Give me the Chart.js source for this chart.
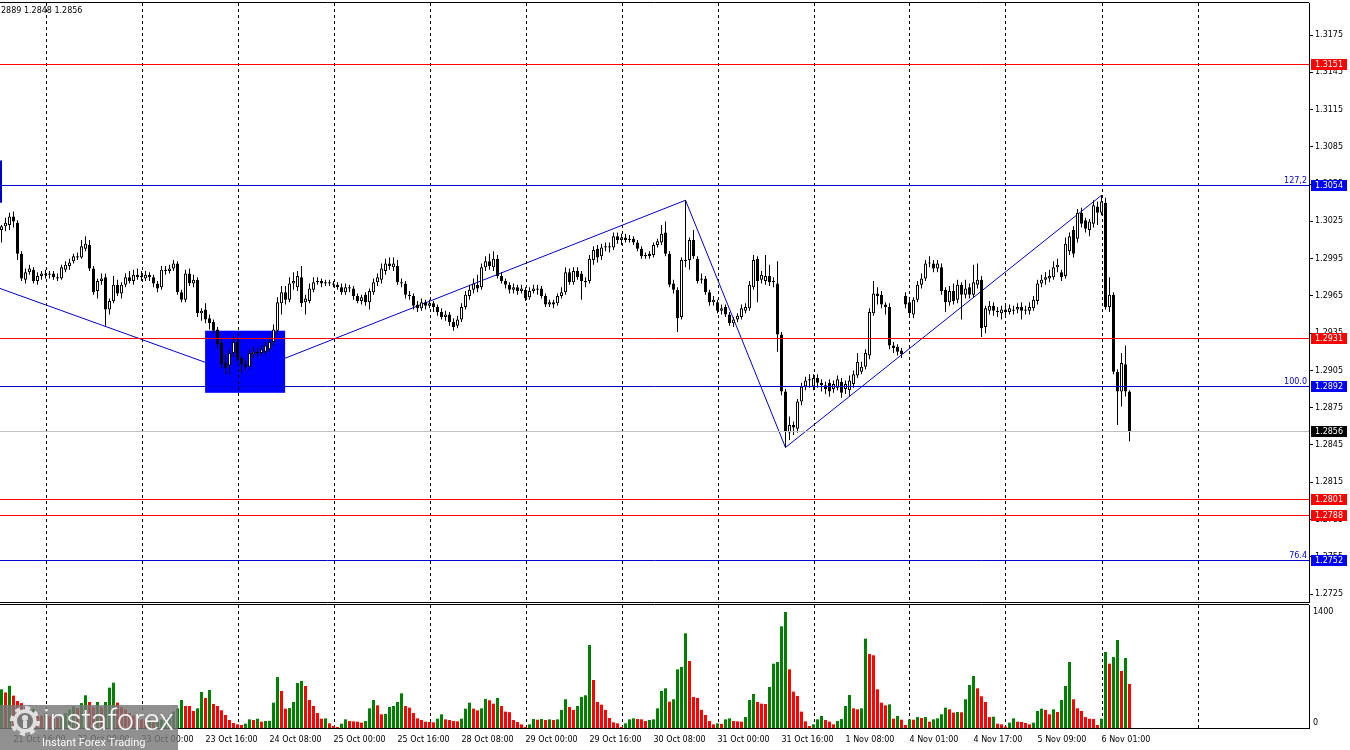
<!DOCTYPE html>
<html>
<head>
<meta charset="utf-8">
<title>GBPUSD H1</title>
<script src="https://cdn.jsdelivr.net/npm/chart.js@4.4.1/dist/chart.umd.min.js"></script>
<style>
  html, body { margin: 0; padding: 0; background: #fff; overflow: hidden; }
  #wrap { position: relative; width: 1350px; height: 750px; }
  canvas { position: absolute; left: 0; }
  #price-chart { top: 0; }
  #volume-chart { top: 604px; }
</style>
</head>
<body>
<div id="wrap">
  <canvas id="price-chart" width="1350" height="604"></canvas>
  <canvas id="volume-chart" width="1350" height="146"></canvas>
</div>
<script>
// H1 candles, 21 Oct 16:00 .. 6 Nov 08:00
const opens = [
  1.3018, 1.3021, 1.3022, 1.3029, 1.3024, 1.2999, 1.2978, 1.2984, 1.2986, 1.2977,
  1.2981, 1.2983, 1.2982, 1.2983, 1.2980, 1.2979, 1.2986, 1.2989, 1.2993, 1.2997,
  1.2996, 1.3003, 1.3006, 1.2987, 1.2969, 1.2977, 1.2980, 1.2954, 1.2961, 1.2974,
  1.2967, 1.2974, 1.2980, 1.2977, 1.2982, 1.2980, 1.2979, 1.2982, 1.2980, 1.2975,
  1.2972, 1.2986, 1.2985, 1.2987, 1.2991, 1.2968, 1.2962, 1.2983, 1.2975, 1.2978,
  1.2951, 1.2954, 1.2947, 1.2944, 1.2938, 1.2927, 1.2911, 1.2909, 1.2919, 1.2928,
  1.2915, 1.2910, 1.2908, 1.2918, 1.2920, 1.2919, 1.2920, 1.2922, 1.2928, 1.2937,
  1.2959, 1.2968, 1.2962, 1.2975, 1.2972, 1.2980, 1.2960, 1.2961, 1.2970, 1.2976,
  1.2977, 1.2975, 1.2976, 1.2975, 1.2974, 1.2972, 1.2968, 1.2972, 1.2971, 1.2965,
  1.2961, 1.2966, 1.2960, 1.2968, 1.2976, 1.2978, 1.2985, 1.2991, 1.2988, 1.2989,
  1.2976, 1.2975, 1.2966, 1.2965, 1.2958, 1.2955, 1.2960, 1.2957, 1.2959, 1.2956,
  1.2952, 1.2948, 1.2950, 1.2944, 1.2941, 1.2946, 1.2956, 1.2965, 1.2970, 1.2974,
  1.2972, 1.2988, 1.2993, 1.2988, 1.2995, 1.2981, 1.2977, 1.2974, 1.2970, 1.2972,
  1.2969, 1.2970, 1.2964, 1.2969, 1.2971, 1.2971, 1.2965, 1.2958, 1.2960, 1.2959,
  1.2965, 1.2968, 1.2984, 1.2976, 1.2985, 1.2983, 1.2977, 1.2977, 1.2994, 1.3003,
  1.2997, 1.3004, 1.3005, 1.3004, 1.3013, 1.3010, 1.3012, 1.3010, 1.3011, 1.3008,
  1.3003, 1.2997, 1.2999, 1.2998, 1.3006, 1.3008, 1.3016, 1.2999, 1.2975, 1.2970,
  1.2948, 1.2994, 1.2994, 1.3010, 1.2995, 1.2978, 1.2979, 1.2968, 1.2960, 1.2960,
  1.2953, 1.2956, 1.2950, 1.2943, 1.2946, 1.2948, 1.2953, 1.2955, 1.2972, 1.2995,
  1.2978, 1.2977, 1.2981, 1.2977, 1.2975, 1.2934, 1.2888, 1.2855, 1.2861, 1.2858,
  1.2880, 1.2892, 1.2897, 1.2892, 1.2899, 1.2895, 1.2893, 1.2895, 1.2890, 1.2891,
  1.2896, 1.2890, 1.2889, 1.2894, 1.2901, 1.2904, 1.2908, 1.2917, 1.2951, 1.2967,
  1.2966, 1.2958, 1.2956, 1.2925, 1.2924, 1.2921, 1.2965, 1.2960, 1.2950, 1.2962,
  1.2974, 1.2979, 1.2991, 1.2991, 1.2987, 1.2988, 1.2970, 1.2960, 1.2969, 1.2962,
  1.2974, 1.2966, 1.2972, 1.2966, 1.2974, 1.2978, 1.2940, 1.2953, 1.2957, 1.2953,
  1.2951, 1.2954, 1.2952, 1.2954, 1.2954, 1.2956, 1.2953, 1.2953, 1.2955, 1.2961,
  1.2975, 1.2978, 1.2979, 1.2980, 1.2988, 1.2984, 1.2981, 1.3001, 1.3018, 1.3011,
  1.3032, 1.3026, 1.3018, 1.3023, 1.3037, 1.3032, 1.3040, 1.2956, 1.2966, 1.2904,
  1.2888, 1.2910, 1.2888
];
const highs = [
  1.3022, 1.3028, 1.3032, 1.3033, 1.3026, 1.3001, 1.2987, 1.2990, 1.2988, 1.2984,
  1.2985, 1.2986, 1.2985, 1.2985, 1.2983, 1.2990, 1.2993, 1.2995, 1.2999, 1.3000,
  1.3010, 1.3013, 1.3010, 1.2989, 1.2979, 1.2983, 1.2983, 1.2963, 1.2981, 1.2978,
  1.2976, 1.2983, 1.2985, 1.2986, 1.2987, 1.2985, 1.2985, 1.2984, 1.2982, 1.2977,
  1.2989, 1.2989, 1.2990, 1.2994, 1.2993, 1.2970, 1.2986, 1.2987, 1.2982, 1.2980,
  1.2955, 1.2959, 1.2950, 1.2946, 1.2940, 1.2930, 1.2918, 1.2922, 1.2933, 1.2932,
  1.2917, 1.2913, 1.2922, 1.2924, 1.2923, 1.2925, 1.2928, 1.2932, 1.2942, 1.2964,
  1.2973, 1.2973, 1.2980, 1.2984, 1.2985, 1.2989, 1.2966, 1.2975, 1.2980, 1.2980,
  1.2979, 1.2978, 1.2978, 1.2977, 1.2976, 1.2975, 1.2975, 1.2974, 1.2973, 1.2967,
  1.2966, 1.2968, 1.2971, 1.2979, 1.2983, 1.2991, 1.2995, 1.2996, 1.2996, 1.2994,
  1.2979, 1.2977, 1.2969, 1.2967, 1.2961, 1.2963, 1.2962, 1.2962, 1.2961, 1.2958,
  1.2955, 1.2953, 1.2952, 1.2947, 1.2949, 1.2959, 1.2969, 1.2974, 1.2979, 1.2982,
  1.2991, 1.2997, 1.2999, 1.3001, 1.2998, 1.2984, 1.2979, 1.2976, 1.2975, 1.2974,
  1.2974, 1.2972, 1.2972, 1.2974, 1.2974, 1.2973, 1.2967, 1.2962, 1.2962, 1.2967,
  1.2972, 1.2988, 1.2987, 1.2988, 1.2988, 1.2985, 1.2980, 1.2998, 1.3005, 1.3006,
  1.3007, 1.3008, 1.3008, 1.3016, 1.3016, 1.3015, 1.3015, 1.3014, 1.3013, 1.3010,
  1.3005, 1.3000, 1.3001, 1.3008, 1.3011, 1.3022, 1.3025, 1.3001, 1.2978, 1.2972,
  1.2996, 1.3042, 1.3012, 1.3018, 1.2997, 1.2983, 1.2981, 1.2970, 1.2965, 1.2962,
  1.2958, 1.2958, 1.2952, 1.2948, 1.2951, 1.2958, 1.2959, 1.2977, 1.2998, 1.2997,
  1.2985, 1.2998, 1.2990, 1.2980, 1.2993, 1.2936, 1.2890, 1.2868, 1.2864, 1.2882,
  1.2895, 1.2900, 1.2902, 1.2902, 1.2902, 1.2898, 1.2896, 1.2898, 1.2897, 1.2901,
  1.2899, 1.2897, 1.2901, 1.2905, 1.2919, 1.2912, 1.2922, 1.2955, 1.2977, 1.2972,
  1.2969, 1.2960, 1.2959, 1.2928, 1.2926, 1.2923, 1.2968, 1.2962, 1.2964, 1.2977,
  1.2983, 1.2994, 1.2997, 1.2994, 1.2994, 1.2991, 1.2972, 1.2973, 1.2975, 1.2978,
  1.2976, 1.2978, 1.2975, 1.2990, 1.2991, 1.2981, 1.2957, 1.2961, 1.2960, 1.2956,
  1.2957, 1.2957, 1.2958, 1.2957, 1.2959, 1.2960, 1.2957, 1.2960, 1.2965, 1.2978,
  1.2982, 1.2984, 1.2986, 1.2993, 1.2995, 1.2986, 1.3012, 1.3016, 1.3021, 1.3035,
  1.3036, 1.3028, 1.3027, 1.3042, 1.3041, 1.3046, 1.3044, 1.2980, 1.2968, 1.2906,
  1.2919, 1.2925, 1.2889
];
const lows = [
  1.3008, 1.3017, 1.3018, 1.3020, 1.2994, 1.2977, 1.2975, 1.2982, 1.2975, 1.2974,
  1.2978, 1.2979, 1.2979, 1.2978, 1.2977, 1.2978, 1.2984, 1.2986, 1.2991, 1.2994,
  1.2995, 1.3001, 1.2985, 1.2966, 1.2963, 1.2974, 1.2941, 1.2950, 1.2959, 1.2965,
  1.2963, 1.2972, 1.2975, 1.2974, 1.2978, 1.2977, 1.2977, 1.2977, 1.2972, 1.2968,
  1.2970, 1.2982, 1.2983, 1.2985, 1.2966, 1.2960, 1.2960, 1.2973, 1.2972, 1.2948,
  1.2945, 1.2943, 1.2938, 1.2935, 1.2922, 1.2907, 1.2902, 1.2902, 1.2916, 1.2912,
  1.2903, 1.2905, 1.2906, 1.2915, 1.2916, 1.2917, 1.2918, 1.2920, 1.2925, 1.2935,
  1.2950, 1.2958, 1.2960, 1.2970, 1.2969, 1.2956, 1.2950, 1.2959, 1.2968, 1.2974,
  1.2972, 1.2973, 1.2973, 1.2972, 1.2970, 1.2966, 1.2966, 1.2968, 1.2962, 1.2959,
  1.2958, 1.2957, 1.2954, 1.2966, 1.2973, 1.2975, 1.2982, 1.2986, 1.2985, 1.2974,
  1.2972, 1.2963, 1.2962, 1.2954, 1.2952, 1.2953, 1.2954, 1.2955, 1.2952, 1.2949,
  1.2946, 1.2945, 1.2941, 1.2937, 1.2939, 1.2944, 1.2954, 1.2962, 1.2967, 1.2968,
  1.2970, 1.2985, 1.2986, 1.2985, 1.2979, 1.2975, 1.2971, 1.2967, 1.2967, 1.2966,
  1.2967, 1.2961, 1.2962, 1.2967, 1.2966, 1.2963, 1.2956, 1.2956, 1.2955, 1.2957,
  1.2963, 1.2966, 1.2974, 1.2974, 1.2978, 1.2962, 1.2972, 1.2975, 1.2990, 1.2992,
  1.2994, 1.3001, 1.3000, 1.3002, 1.3007, 1.3006, 1.3008, 1.3008, 1.3006, 1.3001,
  1.2995, 1.2995, 1.2995, 1.2996, 1.3004, 1.3006, 1.2997, 1.2972, 1.2967, 1.2936,
  1.2946, 1.2988, 1.2986, 1.2995, 1.2975, 1.2975, 1.2966, 1.2957, 1.2957, 1.2951,
  1.2950, 1.2948, 1.2941, 1.2940, 1.2944, 1.2946, 1.2951, 1.2953, 1.2970, 1.2960,
  1.2975, 1.2974, 1.2973, 1.2972, 1.2920, 1.2885, 1.2843, 1.2849, 1.2853, 1.2855,
  1.2877, 1.2889, 1.2891, 1.2889, 1.2891, 1.2888, 1.2886, 1.2884, 1.2887, 1.2889,
  1.2883, 1.2886, 1.2884, 1.2891, 1.2899, 1.2902, 1.2906, 1.2914, 1.2949, 1.2958,
  1.2955, 1.2950, 1.2922, 1.2919, 1.2917, 1.2915, 1.2955, 1.2948, 1.2947, 1.2960,
  1.2971, 1.2977, 1.2988, 1.2984, 1.2984, 1.2966, 1.2952, 1.2957, 1.2958, 1.2959,
  1.2946, 1.2963, 1.2963, 1.2964, 1.2971, 1.2932, 1.2935, 1.2950, 1.2949, 1.2948,
  1.2946, 1.2949, 1.2950, 1.2950, 1.2951, 1.2946, 1.2950, 1.2950, 1.2953, 1.2958,
  1.2972, 1.2974, 1.2976, 1.2978, 1.2984, 1.2977, 1.2979, 1.2998, 1.2996, 1.3008,
  1.3020, 1.3016, 1.3013, 1.3020, 1.3022, 1.3030, 1.2954, 1.2952, 1.2902, 1.2861,
  1.2876, 1.2884, 1.2848
];
const closes = [
  1.3021, 1.3024, 1.3029, 1.3025, 1.2999, 1.2979, 1.2984, 1.2987, 1.2977, 1.2981,
  1.2983, 1.2982, 1.2983, 1.2980, 1.2979, 1.2988, 1.2990, 1.2992, 1.2997, 1.2996,
  1.3005, 1.3007, 1.2987, 1.2968, 1.2977, 1.2979, 1.2954, 1.2961, 1.2974, 1.2967,
  1.2974, 1.2980, 1.2977, 1.2982, 1.2980, 1.2981, 1.2982, 1.2980, 1.2975, 1.2971,
  1.2986, 1.2985, 1.2987, 1.2991, 1.2968, 1.2962, 1.2983, 1.2975, 1.2978, 1.2951,
  1.2953, 1.2946, 1.2943, 1.2937, 1.2926, 1.2910, 1.2907, 1.2919, 1.2928, 1.2915,
  1.2910, 1.2908, 1.2919, 1.2920, 1.2919, 1.2922, 1.2925, 1.2928, 1.2938, 1.2960,
  1.2968, 1.2962, 1.2975, 1.2977, 1.2981, 1.2959, 1.2963, 1.2971, 1.2976, 1.2977,
  1.2975, 1.2976, 1.2975, 1.2974, 1.2972, 1.2968, 1.2972, 1.2971, 1.2965, 1.2961,
  1.2964, 1.2960, 1.2969, 1.2976, 1.2980, 1.2987, 1.2991, 1.2989, 1.2991, 1.2976,
  1.2975, 1.2966, 1.2965, 1.2957, 1.2955, 1.2960, 1.2957, 1.2959, 1.2956, 1.2952,
  1.2948, 1.2950, 1.2944, 1.2940, 1.2946, 1.2956, 1.2966, 1.2970, 1.2975, 1.2971,
  1.2988, 1.2993, 1.2989, 1.2995, 1.2981, 1.2977, 1.2974, 1.2970, 1.2972, 1.2969,
  1.2971, 1.2963, 1.2969, 1.2971, 1.2970, 1.2965, 1.2958, 1.2960, 1.2958, 1.2965,
  1.2968, 1.2984, 1.2976, 1.2985, 1.2980, 1.2977, 1.2976, 1.2995, 1.3002, 1.2996,
  1.3004, 1.3005, 1.3004, 1.3013, 1.3010, 1.3012, 1.3010, 1.3011, 1.3008, 1.3003,
  1.2997, 1.2998, 1.2997, 1.3006, 1.3009, 1.3015, 1.2999, 1.2974, 1.2970, 1.2947,
  1.2994, 1.2993, 1.3010, 1.2997, 1.2977, 1.2979, 1.2968, 1.2960, 1.2962, 1.2953,
  1.2955, 1.2950, 1.2943, 1.2946, 1.2949, 1.2955, 1.2956, 1.2974, 1.2994, 1.2977,
  1.2982, 1.2981, 1.2976, 1.2976, 1.2934, 1.2888, 1.2856, 1.2861, 1.2859, 1.2880,
  1.2892, 1.2897, 1.2898, 1.2899, 1.2895, 1.2893, 1.2890, 1.2888, 1.2894, 1.2898,
  1.2887, 1.2894, 1.2897, 1.2902, 1.2912, 1.2908, 1.2919, 1.2952, 1.2967, 1.2965,
  1.2958, 1.2956, 1.2925, 1.2923, 1.2920, 1.2918, 1.2958, 1.2951, 1.2962, 1.2974,
  1.2979, 1.2991, 1.2992, 1.2987, 1.2991, 1.2969, 1.2960, 1.2969, 1.2961, 1.2974,
  1.2966, 1.2971, 1.2966, 1.2976, 1.2978, 1.2939, 1.2955, 1.2957, 1.2953, 1.2952,
  1.2954, 1.2952, 1.2955, 1.2953, 1.2956, 1.2953, 1.2954, 1.2956, 1.2962, 1.2975,
  1.2978, 1.2980, 1.2981, 1.2988, 1.2990, 1.2980, 1.3007, 1.3013, 1.2999, 1.3032,
  1.3023, 1.3019, 1.3025, 1.3038, 1.3032, 1.3041, 1.2956, 1.2966, 1.2904, 1.2888,
  1.2911, 1.2888, 1.2856
];
const volumes = [
  466, 428, 508, 390, 325, 300, 250, 200, 230, 180,
  150, 170, 140, 160, 130, 150, 180, 220, 260, 240,
  300, 394, 313, 253, 313, 253, 313, 486, 546, 305,
  250, 220, 180, 150, 120, 100, 90, 110, 80, 90,
  100, 120, 150, 200, 237, 338, 265, 265, 205, 237,
  434, 362, 458, 289, 265, 213, 157, 96, 60, 44,
  36, 52, 104, 96, 112, 76, 84, 86, 305, 615,
  446, 233, 240, 313, 542, 566, 506, 338, 265, 181,
  112, 116, 56, 24, 12, 52, 104, 84, 80, 76,
  64, 84, 237, 338, 273, 165, 170, 253, 265, 313,
  418, 265, 245, 181, 116, 96, 76, 72, 68, 112,
  165, 104, 96, 84, 80, 112, 233, 305, 233, 213,
  237, 350, 334, 293, 362, 265, 197, 190, 96, 72,
  44, 12, 44, 108, 100, 108, 96, 104, 96, 104,
  218, 346, 253, 218, 265, 374, 394, 1000, 578, 313,
  281, 218, 120, 68, 56, 12, 56, 104, 116, 108,
  104, 84, 96, 104, 237, 446, 478, 317, 346, 707,
  735, 1141, 807, 374, 362, 218, 157, 84, 44, 56,
  50, 104, 116, 84, 80, 76, 132, 338, 410, 313,
  293, 289, 494, 775, 795, 1225, 1398, 707, 438, 386,
  197, 80, 24, 44, 104, 145, 96, 76, 44, 84,
  108, 265, 398, 237, 225, 237, 1077, 892, 876, 466,
  305, 273, 285, 112, 145, 100, 36, 104, 100, 132,
  120, 132, 76, 104, 116, 165, 245, 225, 185, 193,
  189, 346, 518, 627, 478, 382, 313, 132, 136, 52,
  44, 16, 64, 116, 76, 72, 60, 44, 64, 205,
  233, 218, 165, 225, 193, 338, 506, 795, 346, 237,
  205, 132, 112, 108, 36, 112, 916, 775, 855, 1060,
  687, 843, 530
];

const timeLabelAt = [3, 19, 35, 51, 67, 83, 99, 115, 131, 147, 163, 179, 195, 211, 227, 243, 259, 275];
const timeLabels = [
  '21 Oct 16:00', '22 Oct 08:00', '23 Oct 00:00', '23 Oct 16:00', '24 Oct 08:00', '25 Oct 00:00',
  '25 Oct 16:00', '28 Oct 08:00', '29 Oct 00:00', '29 Oct 16:00', '30 Oct 08:00', '31 Oct 00:00',
  '31 Oct 16:00', '1 Nov 08:00', '4 Nov 01:00', '4 Nov 17:00', '5 Nov 09:00', '6 Nov 01:00'
];
const gridAt = [11, 35, 59, 83, 107, 131, 155, 179, 203, 227, 251, 275, 299];
const priceTicks = [1.2725, 1.2755, 1.2785, 1.2815, 1.2845, 1.2875, 1.2905, 1.2935,
  1.2965, 1.2995, 1.3025, 1.3055, 1.3085, 1.3115, 1.3145, 1.3175];
const volumeTicks = [0, 1400];

const redLevels = [1.3151, 1.2931, 1.2801, 1.2788];
const blueLevels = [1.3054, 1.2892, 1.2752];
const fiboTags = ['127,2', '100.0', '76.4'];
const lastPrice = 1.2856;
const zigzagAt = [-0.375, 60, 171, 196, 275];
const zigzagPrice = [1.2971, 1.2901, 1.3042, 1.2843, 1.3046];
const fiboMarkPrice = [1.3040, 1.3074];
const boxFrom = 50.9, boxTo = 70.9, boxLow = 1.2887, boxHigh = 1.2937;
const headerText = '2889 1.2848 1.2856';

const FONT = '"DejaVu Sans", sans-serif';
const TEXT = '8px ' + FONT;
const X_MIN = -0.375;
const X_MAX = 326.875;
const bars = opens.map((_, i) => i);
const labelFor = {};
timeLabelAt.forEach((v, k) => { labelFor[v] = timeLabels[k]; });

function drawGrid(chart) {
  const { ctx, chartArea: a, scales: { x } } = chart;
  ctx.save();
  ctx.strokeStyle = '#000';
  ctx.lineWidth = 1;
  ctx.setLineDash([3, 3]);
  gridAt.forEach((g) => {
    const px = Math.round(x.getPixelForValue(g)) + 0.5;
    ctx.beginPath();
    ctx.moveTo(px, a.top);
    ctx.lineTo(px, a.bottom);
    ctx.stroke();
  });
  ctx.restore();
}

function drawFrame(chart) {
  const { ctx, chartArea: a } = chart;
  ctx.save();
  ctx.strokeStyle = '#000';
  ctx.lineWidth = 1;
  ctx.beginPath();
  ctx.moveTo(a.left, a.top - 0.5);
  ctx.lineTo(a.right, a.top - 0.5);
  ctx.moveTo(a.left, a.bottom + 0.5);
  ctx.lineTo(a.right, a.bottom + 0.5);
  ctx.stroke();
  ctx.restore();
}

// keep the plot box fixed: no extra room for half-height tick labels
function fixWidth(s) {
  s.width = 41;
  s.paddingTop = 0;
  s.paddingBottom = 0;
}

const pricePlugin = {
  id: 'priceDecor',
  beforeDatasetDraw(chart, args) {
    if (chart.data.datasets[args.index].label !== 'wicks') return;
    const { ctx, scales: { x, y } } = chart;
    const left = x.getPixelForValue(boxFrom);
    const right = x.getPixelForValue(boxTo);
    const top = y.getPixelForValue(boxHigh);
    const bottom = y.getPixelForValue(boxLow);
    ctx.save();
    ctx.fillStyle = '#0000ff';
    ctx.fillRect(left, top, right - left, bottom - top);
    ctx.restore();
    drawGrid(chart);
  },
  afterDatasetsDraw(chart) {
    const { ctx, chartArea: a, scales: { y } } = chart;
    ctx.save();
    ctx.lineWidth = 1;
    const line = (v, color) => {
      const py = Math.floor(y.getPixelForValue(v)) + 0.5;
      ctx.strokeStyle = color;
      ctx.beginPath();
      ctx.moveTo(a.left, py);
      ctx.lineTo(a.right, py);
      ctx.stroke();
      return py;
    };
    line(lastPrice, '#c0c0c0');
    redLevels.forEach((v) => line(v, '#ff0000'));
    ctx.font = TEXT;
    ctx.textAlign = 'right';
    ctx.textBaseline = 'bottom';
    blueLevels.forEach((v, k) => {
      const py = line(v, '#0000cd');
      ctx.fillStyle = '#0000cd';
      ctx.fillText(fiboTags[k], a.right - 2, py - 1);
    });
    ctx.restore();
    drawFrame(chart);
  },
  afterDraw(chart) {
    const { ctx, scales: { y } } = chart;
    ctx.save();
    ctx.font = TEXT;
    ctx.textAlign = 'left';
    ctx.textBaseline = 'middle';
    const tag = (v, bg) => {
      const py = Math.floor(y.getPixelForValue(v));
      ctx.fillStyle = bg;
      ctx.fillRect(y.left + 2, py - 5, 36, 11);
      ctx.fillStyle = '#ffffff';
      ctx.fillText(v.toFixed(4), y.left + 6, py + 1);
    };
    redLevels.forEach((v) => tag(v, '#ff0000'));
    blueLevels.forEach((v) => tag(v, '#0000ff'));
    tag(lastPrice, '#000000');
    ctx.fillStyle = '#000';
    ctx.fillText(headerText, 1, 11);
    ctx.restore();
  }
};

function drawLogo(ctx) {
  ctx.save();
  ctx.fillStyle = 'rgba(120,120,120,0.82)';
  ctx.fillRect(0, 101, 178, 45);
  // gear
  const cx = 25, cy = 117, r = 15;
  ctx.fillStyle = 'rgba(235,235,235,0.9)';
  ctx.beginPath();
  for (let k = 0; k < 16; k++) {
    const a0 = (k * Math.PI) / 8;
    ctx.arc(cx, cy, k % 2 ? r * 0.78 : r, a0, a0 + Math.PI / 8);
  }
  ctx.closePath();
  ctx.fill();
  ctx.fillStyle = 'rgba(120,120,120,1)';
  ctx.beginPath();
  ctx.arc(cx, cy, 8, 0, Math.PI * 2);
  ctx.fill();
  ctx.fillStyle = 'rgba(235,235,235,0.9)';
  ctx.beginPath();
  ctx.arc(cx, cy - 3, 3, 0, Math.PI * 2);
  ctx.fill();
  ctx.fillRect(cx - 2, cy, 4, 7);
  ctx.fillStyle = 'rgba(255,255,255,0.95)';
  ctx.textAlign = 'left';
  ctx.textBaseline = 'alphabetic';
  ctx.font = '300 30px Roboto, sans-serif';
  ctx.fillText('instaforex', 43, 126);
  ctx.font = '11px Roboto, sans-serif';
  ctx.fillText('Instant Forex Trading', 42, 142);
  ctx.restore();
}

const volumePlugin = {
  id: 'volumeDecor',
  beforeDatasetsDraw(chart) { drawGrid(chart); },
  afterDraw(chart) {
    drawFrame(chart);
    drawLogo(chart.ctx);
  }
};

const tickFont = { family: FONT, size: 8 };

new Chart(document.getElementById('price-chart'), {
  type: 'bar',
  data: {
    datasets: [
      {
        label: 'zigzag',
        type: 'line',
        data: zigzagAt.map((x, k) => ({ x, y: zigzagPrice[k] })),
        borderColor: '#0000cd',
        borderWidth: 1,
        pointRadius: 0,
        order: 3
      },
      {
        label: 'fibo',
        type: 'line',
        data: fiboMarkPrice.map((p) => ({ x: X_MIN + 0.25, y: p })),
        borderColor: '#0000cd',
        borderWidth: 2,
        pointRadius: 0,
        order: 3
      },
      {
        label: 'wicks',
        data: bars.map((i) => ({ x: i, y: [lows[i], highs[i]] })),
        backgroundColor: '#000000',
        barThickness: 1,
        grouped: false,
        inflateAmount: 0,
        order: 2
      },
      {
        label: 'bodies',
        data: bars.map((i) => ({ x: i, y: [opens[i], closes[i]] })),
        backgroundColor: bars.map((i) => (closes[i] > opens[i] ? '#ffffff' : '#000000')),
        borderColor: '#000000',
        borderWidth: 1,
        borderSkipped: false,
        barThickness: 3,
        minBarLength: 1,
        grouped: false,
        inflateAmount: 0,
        order: 1
      }
    ]
  },
  options: {
    responsive: false,
    animation: false,
    devicePixelRatio: 1,
    events: [],
    layout: { padding: { top: 3, bottom: 2, left: 0, right: 0 } },
    plugins: { legend: { display: false }, tooltip: { enabled: false } },
    scales: {
      x: { type: 'linear', min: X_MIN, max: X_MAX, offset: false, display: false },
      y: {
        type: 'linear',
        position: 'right',
        min: 1.27186,
        max: 1.32008,
        afterBuildTicks: (s) => { s.ticks = priceTicks.map((v) => ({ value: v })); },
        afterFit: fixWidth,
        grid: { drawOnChartArea: false, drawTicks: true, tickLength: 4, color: '#000' },
        border: { display: true, color: '#000' },
        ticks: { color: '#000', font: tickFont, padding: 2, callback: (v) => Number(v).toFixed(4) }
      }
    }
  },
  plugins: [pricePlugin]
});

new Chart(document.getElementById('volume-chart'), {
  type: 'bar',
  data: {
    datasets: [{
      label: 'volume',
      data: bars.map((i) => ({ x: i, y: volumes[i] })),
      backgroundColor: volumes.map((v, i) => (i > 0 && v <= volumes[i - 1] ? '#ff0000' : '#008000')),
      barThickness: 3,
      grouped: false,
      inflateAmount: 0,
      yAxisID: 'y'
    }]
  },
  options: {
    responsive: false,
    animation: false,
    devicePixelRatio: 1,
    events: [],
    layout: { padding: { top: 1, bottom: 0, left: 0, right: 0 } },
    plugins: { legend: { display: false }, tooltip: { enabled: false } },
    scales: {
      x: {
        type: 'linear',
        min: X_MIN,
        max: X_MAX,
        offset: false,
        afterBuildTicks: (s) => { s.ticks = timeLabelAt.map((v) => ({ value: v })); },
        afterFit: (s) => { s.height = 22; s.paddingLeft = 0; s.paddingRight = 0; },
        grid: { display: false, drawTicks: false },
        border: { display: false },
        ticks: {
          align: 'start', autoSkip: false, maxRotation: 0, minRotation: 0,
          padding: 7, color: '#000', font: tickFont,
          callback: (v) => labelFor[v] || ''
        }
      },
      y: { type: 'linear', display: false, min: 0, max: 1482 },
      yl: {
        type: 'linear',
        position: 'right',
        min: -69,
        max: 1482,
        afterBuildTicks: (s) => { s.ticks = volumeTicks.map((v) => ({ value: v })); },
        afterFit: fixWidth,
        grid: { drawOnChartArea: false, drawTicks: false },
        border: { display: true, color: '#000' },
        ticks: { color: '#000', font: tickFont, padding: 4, callback: (v) => String(v) }
      }
    }
  },
  plugins: [volumePlugin]
});
</script>
</body>
</html>
